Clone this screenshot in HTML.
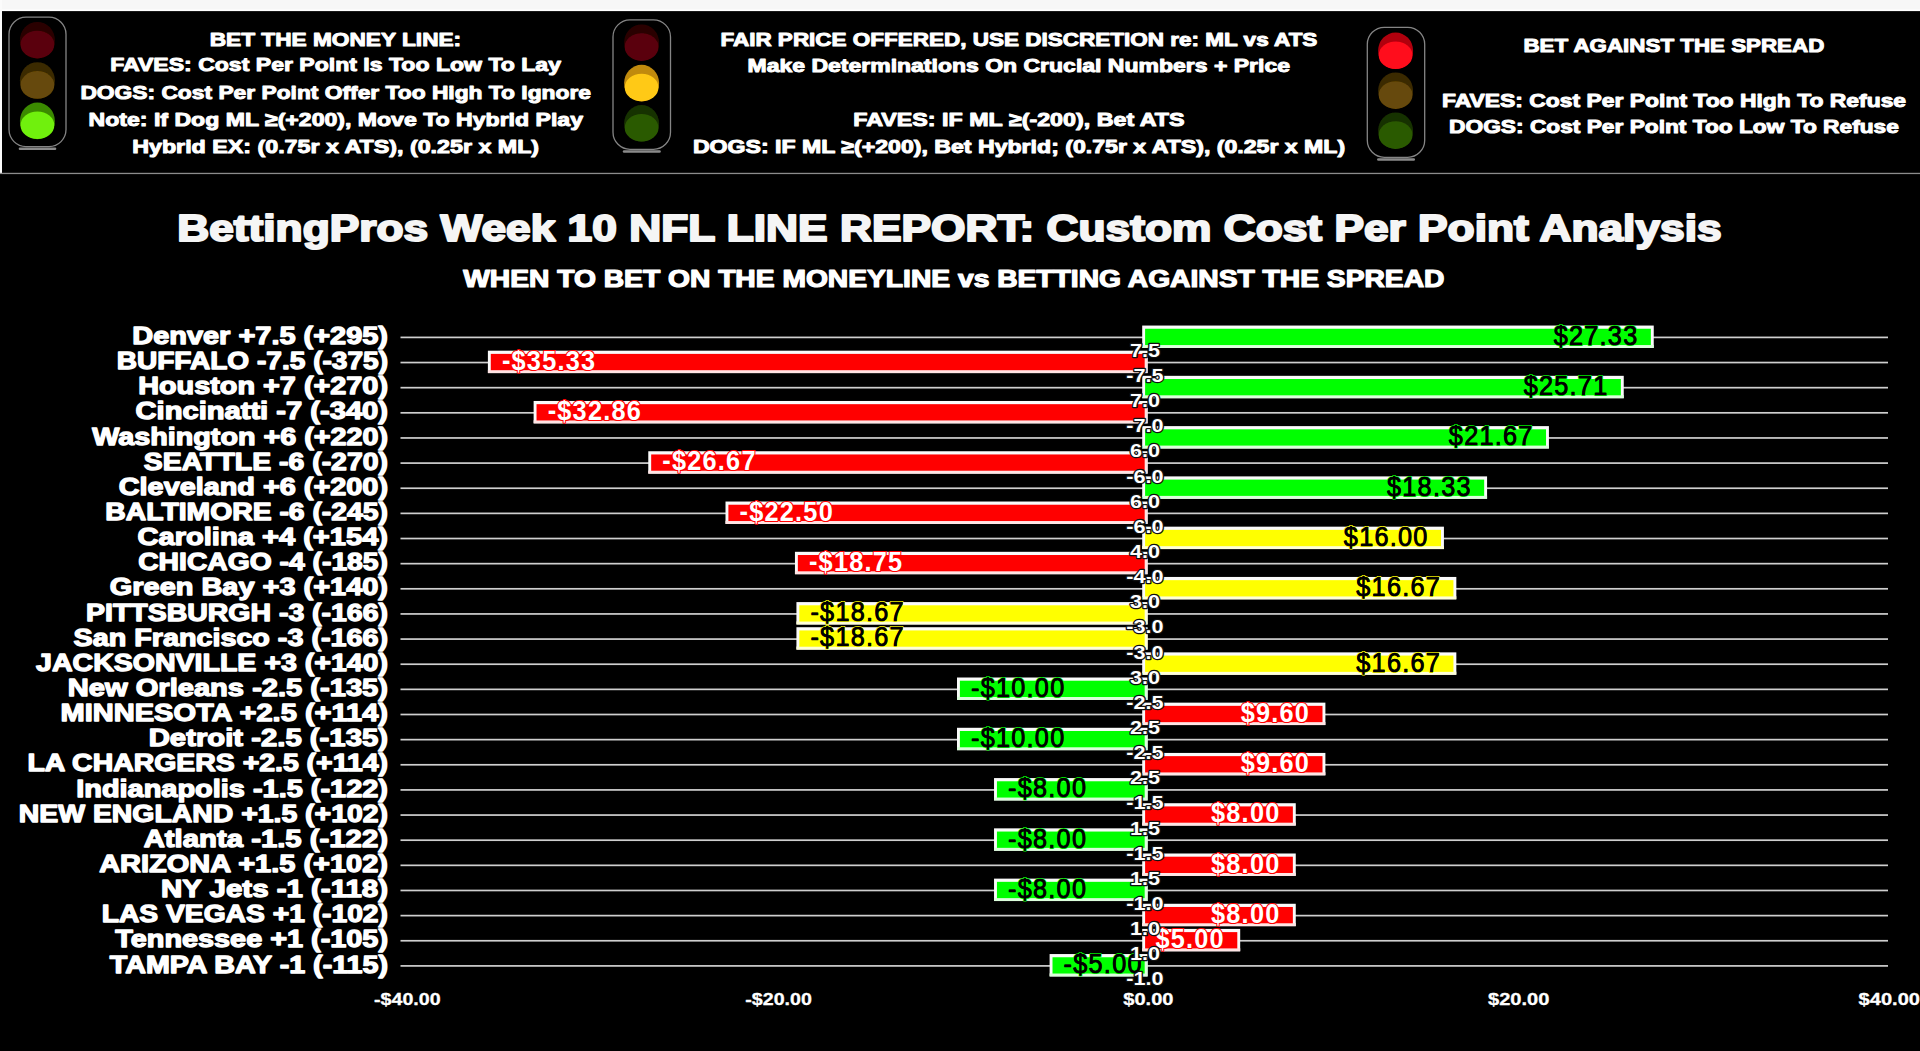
<!DOCTYPE html>
<html lang="en"><head><meta charset="utf-8"><title>BettingPros Week 10 NFL Line Report</title>
<style>
html,body{margin:0;padding:0;background:#000;}
body{width:1920px;height:1051px;overflow:hidden;position:relative;font-family:"Liberation Sans", Arial, Helvetica, sans-serif;}
</style></head><body>
<svg width="1920" height="1051" viewBox="0 0 1920 1051" style="position:absolute;left:0;top:0;font-family:&quot;Liberation Sans&quot;, Arial, Helvetica, sans-serif">

<defs>
 <filter id="soft" x="-20%" y="-20%" width="140%" height="140%"><feGaussianBlur stdDeviation="0.7"/></filter>
</defs>

<rect x="0" y="0" width="1920" height="1051" fill="#000"/>
<rect x="0" y="0" width="1920" height="10" fill="#f7f7f7"/>
<rect x="0" y="9.5" width="1920" height="1.6" fill="#ffffff"/>
<rect x="0" y="0" width="2" height="173" fill="#fbfbfb"/>
<rect x="0" y="172.8" width="1920" height="1.3" fill="#8c8c8c"/>
<rect x="9" y="17.2" width="57" height="129.4" rx="17" ry="17" fill="#000" stroke="#858585" stroke-width="1.3"/>
<rect x="18.7" y="147.6" width="37.6" height="2.4" rx="1.2" fill="#8a8a8a"/>
<g filter="url(#soft)"><ellipse cx="37.4" cy="40.2" rx="17.5" ry="18.3" fill="#2c0004"/>
<ellipse cx="37.4" cy="44.6" rx="16.9" ry="13.8" fill="#5a000a"/></g>
<g filter="url(#soft)"><ellipse cx="37.4" cy="80.5" rx="17.5" ry="18.3" fill="#3a2904"/>
<ellipse cx="37.4" cy="84.9" rx="16.9" ry="13.8" fill="#664808"/></g>
<g filter="url(#soft)"><ellipse cx="37.4" cy="120.9" rx="17.5" ry="18.3" fill="#3a8a00"/>
<ellipse cx="37.4" cy="125.3" rx="16.9" ry="13.8" fill="#70f008"/></g>
<rect x="613" y="19.9" width="57.5" height="129.4" rx="17" ry="17" fill="#000" stroke="#858585" stroke-width="1.3"/>
<rect x="622.8" y="150.3" width="38.0" height="2.4" rx="1.2" fill="#8a8a8a"/>
<g filter="url(#soft)"><ellipse cx="641.6" cy="42.7" rx="17.5" ry="18.3" fill="#2c0004"/>
<ellipse cx="641.6" cy="47.1" rx="16.9" ry="13.8" fill="#5a000a"/></g>
<g filter="url(#soft)"><ellipse cx="641.6" cy="83.1" rx="17.5" ry="18.3" fill="#c08a0e"/>
<ellipse cx="641.6" cy="87.5" rx="16.9" ry="13.8" fill="#ffc914"/></g>
<g filter="url(#soft)"><ellipse cx="641.6" cy="123.4" rx="17.5" ry="18.3" fill="#183000"/>
<ellipse cx="641.6" cy="127.8" rx="16.9" ry="13.8" fill="#2c5a00"/></g>
<rect x="1367.3" y="27.3" width="57.4" height="130" rx="17" ry="17" fill="#000" stroke="#858585" stroke-width="1.3"/>
<rect x="1377.1" y="158.3" width="37.9" height="2.4" rx="1.2" fill="#8a8a8a"/>
<g filter="url(#soft)"><ellipse cx="1395.6" cy="50.8" rx="17.5" ry="18.3" fill="#b0000e"/>
<ellipse cx="1395.6" cy="55.2" rx="16.9" ry="13.8" fill="#ff0a1a"/></g>
<g filter="url(#soft)"><ellipse cx="1395.6" cy="90.7" rx="17.5" ry="18.3" fill="#3a2904"/>
<ellipse cx="1395.6" cy="95.1" rx="16.9" ry="13.8" fill="#664808"/></g>
<g filter="url(#soft)"><ellipse cx="1395.6" cy="130.7" rx="17.5" ry="18.3" fill="#183000"/>
<ellipse cx="1395.6" cy="135.1" rx="16.9" ry="13.8" fill="#2c5a00"/></g>
<text x="209.70" y="46.00" font-size="19" font-weight="bold" fill="#fff" textLength="251.50" lengthAdjust="spacingAndGlyphs" stroke="#fff" stroke-width="1.0" stroke-linejoin="round" paint-order="stroke">BET THE MONEY LINE:</text>
<text x="110.20" y="71.40" font-size="19" font-weight="bold" fill="#fff" textLength="450.80" lengthAdjust="spacingAndGlyphs" stroke="#fff" stroke-width="1.0" stroke-linejoin="round" paint-order="stroke">FAVES: Cost Per Point Is Too Low To Lay</text>
<text x="80.40" y="98.60" font-size="19" font-weight="bold" fill="#fff" textLength="510.60" lengthAdjust="spacingAndGlyphs" stroke="#fff" stroke-width="1.0" stroke-linejoin="round" paint-order="stroke">DOGS: Cost Per Point Offer Too High To Ignore</text>
<text x="88.60" y="125.60" font-size="19" font-weight="bold" fill="#fff" textLength="494.40" lengthAdjust="spacingAndGlyphs" stroke="#fff" stroke-width="1.0" stroke-linejoin="round" paint-order="stroke">Note: If Dog ML ≥(+200), Move To Hybrid Play</text>
<text x="132.20" y="153.00" font-size="19" font-weight="bold" fill="#fff" textLength="406.90" lengthAdjust="spacingAndGlyphs" stroke="#fff" stroke-width="1.0" stroke-linejoin="round" paint-order="stroke">Hybrid EX: (0.75r x ATS), (0.25r x ML)</text>
<text x="720.40" y="46.00" font-size="19" font-weight="bold" fill="#fff" textLength="597.00" lengthAdjust="spacingAndGlyphs" stroke="#fff" stroke-width="1.0" stroke-linejoin="round" paint-order="stroke">FAIR PRICE OFFERED, USE DISCRETION re: ML vs ATS</text>
<text x="747.50" y="71.80" font-size="19" font-weight="bold" fill="#fff" textLength="542.50" lengthAdjust="spacingAndGlyphs" stroke="#fff" stroke-width="1.0" stroke-linejoin="round" paint-order="stroke">Make Determinations On Crucial Numbers + Price</text>
<text x="853.30" y="126.20" font-size="19" font-weight="bold" fill="#fff" textLength="331.30" lengthAdjust="spacingAndGlyphs" stroke="#fff" stroke-width="1.0" stroke-linejoin="round" paint-order="stroke">FAVES: IF ML ≥(-200), Bet ATS</text>
<text x="692.90" y="153.20" font-size="19" font-weight="bold" fill="#fff" textLength="652.30" lengthAdjust="spacingAndGlyphs" stroke="#fff" stroke-width="1.0" stroke-linejoin="round" paint-order="stroke">DOGS: IF ML ≥(+200), Bet Hybrid; (0.75r x ATS), (0.25r x ML)</text>
<text x="1523.40" y="52.40" font-size="19" font-weight="bold" fill="#fff" textLength="300.90" lengthAdjust="spacingAndGlyphs" stroke="#fff" stroke-width="1.0" stroke-linejoin="round" paint-order="stroke">BET AGAINST THE SPREAD</text>
<text x="1442.00" y="106.50" font-size="19" font-weight="bold" fill="#fff" textLength="464.10" lengthAdjust="spacingAndGlyphs" stroke="#fff" stroke-width="1.0" stroke-linejoin="round" paint-order="stroke">FAVES: Cost Per Point Too High To Refuse</text>
<text x="1449.10" y="133.40" font-size="19" font-weight="bold" fill="#fff" textLength="449.80" lengthAdjust="spacingAndGlyphs" stroke="#fff" stroke-width="1.0" stroke-linejoin="round" paint-order="stroke">DOGS: Cost Per Point Too Low To Refuse</text>
<text x="177.20" y="241.00" font-size="36.3" font-weight="bold" fill="#f5f5f5" textLength="1544.40" lengthAdjust="spacingAndGlyphs" stroke="#f5f5f5" stroke-width="2.0" stroke-linejoin="round" paint-order="stroke">BettingPros Week 10 NFL LINE REPORT: Custom Cost Per Point Analysis</text>
<text x="463.20" y="286.80" font-size="23.2" font-weight="bold" fill="#fff" textLength="981.20" lengthAdjust="spacingAndGlyphs" stroke="#fff" stroke-width="1.2" stroke-linejoin="round" paint-order="stroke">WHEN TO BET ON THE MONEYLINE vs BETTING AGAINST THE SPREAD</text>
<rect x="400.5" y="336.55" width="1487.5" height="1.7" fill="#cfcfcf"/>
<rect x="400.5" y="361.69" width="1487.5" height="1.7" fill="#cfcfcf"/>
<rect x="400.5" y="386.83" width="1487.5" height="1.7" fill="#cfcfcf"/>
<rect x="400.5" y="411.97" width="1487.5" height="1.7" fill="#cfcfcf"/>
<rect x="400.5" y="437.11" width="1487.5" height="1.7" fill="#cfcfcf"/>
<rect x="400.5" y="462.25" width="1487.5" height="1.7" fill="#cfcfcf"/>
<rect x="400.5" y="487.39" width="1487.5" height="1.7" fill="#cfcfcf"/>
<rect x="400.5" y="512.53" width="1487.5" height="1.7" fill="#cfcfcf"/>
<rect x="400.5" y="537.67" width="1487.5" height="1.7" fill="#cfcfcf"/>
<rect x="400.5" y="562.81" width="1487.5" height="1.7" fill="#cfcfcf"/>
<rect x="400.5" y="587.95" width="1487.5" height="1.7" fill="#cfcfcf"/>
<rect x="400.5" y="613.09" width="1487.5" height="1.7" fill="#cfcfcf"/>
<rect x="400.5" y="638.23" width="1487.5" height="1.7" fill="#cfcfcf"/>
<rect x="400.5" y="663.37" width="1487.5" height="1.7" fill="#cfcfcf"/>
<rect x="400.5" y="688.51" width="1487.5" height="1.7" fill="#cfcfcf"/>
<rect x="400.5" y="713.65" width="1487.5" height="1.7" fill="#cfcfcf"/>
<rect x="400.5" y="738.79" width="1487.5" height="1.7" fill="#cfcfcf"/>
<rect x="400.5" y="763.93" width="1487.5" height="1.7" fill="#cfcfcf"/>
<rect x="400.5" y="789.07" width="1487.5" height="1.7" fill="#cfcfcf"/>
<rect x="400.5" y="814.21" width="1487.5" height="1.7" fill="#cfcfcf"/>
<rect x="400.5" y="839.35" width="1487.5" height="1.7" fill="#cfcfcf"/>
<rect x="400.5" y="864.49" width="1487.5" height="1.7" fill="#cfcfcf"/>
<rect x="400.5" y="889.63" width="1487.5" height="1.7" fill="#cfcfcf"/>
<rect x="400.5" y="914.77" width="1487.5" height="1.7" fill="#cfcfcf"/>
<rect x="400.5" y="939.91" width="1487.5" height="1.7" fill="#cfcfcf"/>
<rect x="400.5" y="965.05" width="1487.5" height="1.7" fill="#cfcfcf"/>
<rect x="1142.20" y="325.55" width="511.55" height="22.40" fill="#fafafa"/>
<rect x="1142.20" y="344.85" width="511.55" height="3.10" fill="#dcffdc"/>
<rect x="1145.10" y="328.75" width="505.75" height="16.30" fill="#00ff00"/>
<rect x="487.89" y="350.69" width="659.71" height="22.40" fill="#fafafa"/>
<rect x="487.89" y="369.99" width="659.71" height="3.10" fill="#ffe4e4"/>
<rect x="1144.70" y="353.59" width="2.90" height="16.60" fill="#ffe4e4"/>
<rect x="490.79" y="353.89" width="653.91" height="16.30" fill="#ff0000"/>
<rect x="1142.20" y="375.83" width="481.55" height="22.40" fill="#fafafa"/>
<rect x="1142.20" y="395.13" width="481.55" height="3.10" fill="#dcffdc"/>
<rect x="1145.10" y="379.03" width="475.75" height="16.30" fill="#00ff00"/>
<rect x="533.63" y="400.97" width="613.97" height="22.40" fill="#fafafa"/>
<rect x="533.63" y="420.27" width="613.97" height="3.10" fill="#ffe4e4"/>
<rect x="1144.70" y="403.87" width="2.90" height="16.60" fill="#ffe4e4"/>
<rect x="536.53" y="404.17" width="608.17" height="16.30" fill="#ff0000"/>
<rect x="1142.20" y="426.11" width="406.73" height="22.40" fill="#fafafa"/>
<rect x="1142.20" y="445.41" width="406.73" height="3.10" fill="#dcffdc"/>
<rect x="1145.10" y="429.31" width="400.93" height="16.30" fill="#00ff00"/>
<rect x="648.27" y="451.25" width="499.33" height="22.40" fill="#fafafa"/>
<rect x="648.27" y="470.55" width="499.33" height="3.10" fill="#ffe4e4"/>
<rect x="1144.70" y="454.15" width="2.90" height="16.60" fill="#ffe4e4"/>
<rect x="651.17" y="454.45" width="493.53" height="16.30" fill="#ff0000"/>
<rect x="1142.20" y="476.39" width="344.87" height="22.40" fill="#fafafa"/>
<rect x="1142.20" y="495.69" width="344.87" height="3.10" fill="#dcffdc"/>
<rect x="1145.10" y="479.59" width="339.07" height="16.30" fill="#00ff00"/>
<rect x="725.50" y="501.53" width="422.10" height="22.40" fill="#fafafa"/>
<rect x="725.50" y="520.83" width="422.10" height="3.10" fill="#ffe4e4"/>
<rect x="1144.70" y="504.43" width="2.90" height="16.60" fill="#ffe4e4"/>
<rect x="728.40" y="504.73" width="416.30" height="16.30" fill="#ff0000"/>
<rect x="1142.20" y="526.67" width="301.72" height="22.40" fill="#fafafa"/>
<rect x="1142.20" y="545.97" width="301.72" height="3.10" fill="#ffffd8"/>
<rect x="1145.10" y="529.87" width="295.92" height="16.30" fill="#ffff00"/>
<rect x="794.95" y="551.81" width="352.65" height="22.40" fill="#fafafa"/>
<rect x="794.95" y="571.11" width="352.65" height="3.10" fill="#ffe4e4"/>
<rect x="1144.70" y="554.71" width="2.90" height="16.60" fill="#ffe4e4"/>
<rect x="797.85" y="555.01" width="346.85" height="16.30" fill="#ff0000"/>
<rect x="1142.20" y="576.95" width="314.13" height="22.40" fill="#fafafa"/>
<rect x="1142.20" y="596.25" width="314.13" height="3.10" fill="#ffffd8"/>
<rect x="1145.10" y="580.15" width="308.33" height="16.30" fill="#ffff00"/>
<rect x="796.43" y="602.09" width="351.17" height="22.40" fill="#fafafa"/>
<rect x="796.43" y="621.39" width="351.17" height="3.10" fill="#ffffd8"/>
<rect x="1144.70" y="604.99" width="2.90" height="16.60" fill="#ffffd8"/>
<rect x="799.33" y="605.29" width="345.37" height="16.30" fill="#ffff00"/>
<rect x="796.43" y="627.23" width="351.17" height="22.40" fill="#fafafa"/>
<rect x="796.43" y="646.53" width="351.17" height="3.10" fill="#ffffd8"/>
<rect x="1144.70" y="630.13" width="2.90" height="16.60" fill="#ffffd8"/>
<rect x="799.33" y="630.43" width="345.37" height="16.30" fill="#ffff00"/>
<rect x="1142.20" y="652.37" width="314.13" height="22.40" fill="#fafafa"/>
<rect x="1142.20" y="671.67" width="314.13" height="3.10" fill="#ffffd8"/>
<rect x="1145.10" y="655.57" width="308.33" height="16.30" fill="#ffff00"/>
<rect x="957.00" y="677.51" width="190.60" height="22.40" fill="#fafafa"/>
<rect x="957.00" y="696.81" width="190.60" height="3.10" fill="#dcffdc"/>
<rect x="1144.70" y="680.41" width="2.90" height="16.60" fill="#dcffdc"/>
<rect x="959.90" y="680.71" width="184.80" height="16.30" fill="#00ff00"/>
<rect x="1142.20" y="702.65" width="183.19" height="22.40" fill="#fafafa"/>
<rect x="1142.20" y="721.95" width="183.19" height="3.10" fill="#ffe4e4"/>
<rect x="1145.10" y="705.85" width="177.39" height="16.30" fill="#ff0000"/>
<rect x="957.00" y="727.79" width="190.60" height="22.40" fill="#fafafa"/>
<rect x="957.00" y="747.09" width="190.60" height="3.10" fill="#dcffdc"/>
<rect x="1144.70" y="730.69" width="2.90" height="16.60" fill="#dcffdc"/>
<rect x="959.90" y="730.99" width="184.80" height="16.30" fill="#00ff00"/>
<rect x="1142.20" y="752.93" width="183.19" height="22.40" fill="#fafafa"/>
<rect x="1142.20" y="772.23" width="183.19" height="3.10" fill="#ffe4e4"/>
<rect x="1145.10" y="756.13" width="177.39" height="16.30" fill="#ff0000"/>
<rect x="994.04" y="778.07" width="153.56" height="22.40" fill="#fafafa"/>
<rect x="994.04" y="797.37" width="153.56" height="3.10" fill="#dcffdc"/>
<rect x="1144.70" y="780.97" width="2.90" height="16.60" fill="#dcffdc"/>
<rect x="996.94" y="781.27" width="147.76" height="16.30" fill="#00ff00"/>
<rect x="1142.20" y="803.21" width="153.56" height="22.40" fill="#fafafa"/>
<rect x="1142.20" y="822.51" width="153.56" height="3.10" fill="#ffe4e4"/>
<rect x="1145.10" y="806.41" width="147.76" height="16.30" fill="#ff0000"/>
<rect x="994.04" y="828.35" width="153.56" height="22.40" fill="#fafafa"/>
<rect x="994.04" y="847.65" width="153.56" height="3.10" fill="#dcffdc"/>
<rect x="1144.70" y="831.25" width="2.90" height="16.60" fill="#dcffdc"/>
<rect x="996.94" y="831.55" width="147.76" height="16.30" fill="#00ff00"/>
<rect x="1142.20" y="853.49" width="153.56" height="22.40" fill="#fafafa"/>
<rect x="1142.20" y="872.79" width="153.56" height="3.10" fill="#ffe4e4"/>
<rect x="1145.10" y="856.69" width="147.76" height="16.30" fill="#ff0000"/>
<rect x="994.04" y="878.63" width="153.56" height="22.40" fill="#fafafa"/>
<rect x="994.04" y="897.93" width="153.56" height="3.10" fill="#dcffdc"/>
<rect x="1144.70" y="881.53" width="2.90" height="16.60" fill="#dcffdc"/>
<rect x="996.94" y="881.83" width="147.76" height="16.30" fill="#00ff00"/>
<rect x="1142.20" y="903.77" width="153.56" height="22.40" fill="#fafafa"/>
<rect x="1142.20" y="923.07" width="153.56" height="3.10" fill="#ffe4e4"/>
<rect x="1145.10" y="906.97" width="147.76" height="16.30" fill="#ff0000"/>
<rect x="1142.20" y="928.91" width="98.00" height="22.40" fill="#fafafa"/>
<rect x="1142.20" y="948.21" width="98.00" height="3.10" fill="#ffe4e4"/>
<rect x="1145.10" y="932.11" width="92.20" height="16.30" fill="#ff0000"/>
<rect x="1049.60" y="954.05" width="98.00" height="22.40" fill="#fafafa"/>
<rect x="1049.60" y="973.35" width="98.00" height="3.10" fill="#dcffdc"/>
<rect x="1144.70" y="956.95" width="2.90" height="16.60" fill="#dcffdc"/>
<rect x="1052.50" y="957.25" width="92.20" height="16.30" fill="#00ff00"/>
<text x="132.30" y="344.00" font-size="24" font-weight="bold" fill="#fff" textLength="255.70" lengthAdjust="spacingAndGlyphs" stroke="#fff" stroke-width="1.3" stroke-linejoin="round" paint-order="stroke">Denver +7.5 (+295)</text>
<text x="116.70" y="369.14" font-size="24" font-weight="bold" fill="#fff" textLength="271.30" lengthAdjust="spacingAndGlyphs" stroke="#fff" stroke-width="1.3" stroke-linejoin="round" paint-order="stroke">BUFFALO -7.5 (-375)</text>
<text x="138.20" y="394.28" font-size="24" font-weight="bold" fill="#fff" textLength="249.80" lengthAdjust="spacingAndGlyphs" stroke="#fff" stroke-width="1.3" stroke-linejoin="round" paint-order="stroke">Houston +7 (+270)</text>
<text x="135.50" y="419.42" font-size="24" font-weight="bold" fill="#fff" textLength="252.50" lengthAdjust="spacingAndGlyphs" stroke="#fff" stroke-width="1.3" stroke-linejoin="round" paint-order="stroke">Cincinatti -7 (-340)</text>
<text x="92.30" y="444.56" font-size="24" font-weight="bold" fill="#fff" textLength="295.70" lengthAdjust="spacingAndGlyphs" stroke="#fff" stroke-width="1.3" stroke-linejoin="round" paint-order="stroke">Washington +6 (+220)</text>
<text x="143.80" y="469.70" font-size="24" font-weight="bold" fill="#fff" textLength="244.20" lengthAdjust="spacingAndGlyphs" stroke="#fff" stroke-width="1.3" stroke-linejoin="round" paint-order="stroke">SEATTLE -6 (-270)</text>
<text x="118.80" y="494.84" font-size="24" font-weight="bold" fill="#fff" textLength="269.20" lengthAdjust="spacingAndGlyphs" stroke="#fff" stroke-width="1.3" stroke-linejoin="round" paint-order="stroke">Cleveland +6 (+200)</text>
<text x="105.30" y="519.98" font-size="24" font-weight="bold" fill="#fff" textLength="282.70" lengthAdjust="spacingAndGlyphs" stroke="#fff" stroke-width="1.3" stroke-linejoin="round" paint-order="stroke">BALTIMORE -6 (-245)</text>
<text x="137.50" y="545.12" font-size="24" font-weight="bold" fill="#fff" textLength="250.50" lengthAdjust="spacingAndGlyphs" stroke="#fff" stroke-width="1.3" stroke-linejoin="round" paint-order="stroke">Carolina +4 (+154)</text>
<text x="138.20" y="570.26" font-size="24" font-weight="bold" fill="#fff" textLength="249.80" lengthAdjust="spacingAndGlyphs" stroke="#fff" stroke-width="1.3" stroke-linejoin="round" paint-order="stroke">CHICAGO -4 (-185)</text>
<text x="109.80" y="595.40" font-size="24" font-weight="bold" fill="#fff" textLength="278.20" lengthAdjust="spacingAndGlyphs" stroke="#fff" stroke-width="1.3" stroke-linejoin="round" paint-order="stroke">Green Bay +3 (+140)</text>
<text x="86.10" y="620.54" font-size="24" font-weight="bold" fill="#fff" textLength="301.90" lengthAdjust="spacingAndGlyphs" stroke="#fff" stroke-width="1.3" stroke-linejoin="round" paint-order="stroke">PITTSBURGH -3 (-166)</text>
<text x="73.60" y="645.68" font-size="24" font-weight="bold" fill="#fff" textLength="314.40" lengthAdjust="spacingAndGlyphs" stroke="#fff" stroke-width="1.3" stroke-linejoin="round" paint-order="stroke">San Francisco -3 (-166)</text>
<text x="36.10" y="670.82" font-size="24" font-weight="bold" fill="#fff" textLength="351.90" lengthAdjust="spacingAndGlyphs" stroke="#fff" stroke-width="1.3" stroke-linejoin="round" paint-order="stroke">JACKSONVILLE +3 (+140)</text>
<text x="67.75" y="695.96" font-size="24" font-weight="bold" fill="#fff" textLength="320.25" lengthAdjust="spacingAndGlyphs" stroke="#fff" stroke-width="1.3" stroke-linejoin="round" paint-order="stroke">New Orleans -2.5 (-135)</text>
<text x="60.50" y="721.10" font-size="24" font-weight="bold" fill="#fff" textLength="327.50" lengthAdjust="spacingAndGlyphs" stroke="#fff" stroke-width="1.3" stroke-linejoin="round" paint-order="stroke">MINNESOTA +2.5 (+114)</text>
<text x="148.70" y="746.24" font-size="24" font-weight="bold" fill="#fff" textLength="239.30" lengthAdjust="spacingAndGlyphs" stroke="#fff" stroke-width="1.3" stroke-linejoin="round" paint-order="stroke">Detroit -2.5 (-135)</text>
<text x="27.40" y="771.38" font-size="24" font-weight="bold" fill="#fff" textLength="360.60" lengthAdjust="spacingAndGlyphs" stroke="#fff" stroke-width="1.3" stroke-linejoin="round" paint-order="stroke">LA CHARGERS +2.5 (+114)</text>
<text x="76.20" y="796.52" font-size="24" font-weight="bold" fill="#fff" textLength="311.80" lengthAdjust="spacingAndGlyphs" stroke="#fff" stroke-width="1.3" stroke-linejoin="round" paint-order="stroke">Indianapolis -1.5 (-122)</text>
<text x="18.80" y="821.66" font-size="24" font-weight="bold" fill="#fff" textLength="369.20" lengthAdjust="spacingAndGlyphs" stroke="#fff" stroke-width="1.3" stroke-linejoin="round" paint-order="stroke">NEW ENGLAND +1.5 (+102)</text>
<text x="143.70" y="846.80" font-size="24" font-weight="bold" fill="#fff" textLength="244.30" lengthAdjust="spacingAndGlyphs" stroke="#fff" stroke-width="1.3" stroke-linejoin="round" paint-order="stroke">Atlanta -1.5 (-122)</text>
<text x="99.20" y="871.94" font-size="24" font-weight="bold" fill="#fff" textLength="288.80" lengthAdjust="spacingAndGlyphs" stroke="#fff" stroke-width="1.3" stroke-linejoin="round" paint-order="stroke">ARIZONA +1.5 (+102)</text>
<text x="161.00" y="897.08" font-size="24" font-weight="bold" fill="#fff" textLength="227.00" lengthAdjust="spacingAndGlyphs" stroke="#fff" stroke-width="1.3" stroke-linejoin="round" paint-order="stroke">NY Jets -1 (-118)</text>
<text x="101.70" y="922.22" font-size="24" font-weight="bold" fill="#fff" textLength="286.30" lengthAdjust="spacingAndGlyphs" stroke="#fff" stroke-width="1.3" stroke-linejoin="round" paint-order="stroke">LAS VEGAS +1 (-102)</text>
<text x="115.30" y="947.36" font-size="24" font-weight="bold" fill="#fff" textLength="272.70" lengthAdjust="spacingAndGlyphs" stroke="#fff" stroke-width="1.3" stroke-linejoin="round" paint-order="stroke">Tennessee +1 (-105)</text>
<text x="109.80" y="972.50" font-size="24" font-weight="bold" fill="#fff" textLength="278.20" lengthAdjust="spacingAndGlyphs" stroke="#fff" stroke-width="1.3" stroke-linejoin="round" paint-order="stroke">TAMPA BAY -1 (-115)</text>
<g transform="translate(1638.49,344.75) scale(0.92,1)">
<text x="0.00" y="0.00" font-size="27.5" font-weight="normal" fill="#000000" text-anchor="end" stroke="#00ff00" stroke-width="2.2" stroke-linejoin="round" paint-order="stroke" letter-spacing="1.35">$27.33</text>
<text x="0.00" y="0.00" font-size="27.5" font-weight="normal" fill="#000000" text-anchor="end" stroke="#000000" stroke-width="0.7" stroke-linejoin="round" paint-order="stroke" letter-spacing="1.35">$27.33</text>
</g>
<g transform="translate(501.89,369.89) scale(0.92,1)">
<text x="0.00" y="0.00" font-size="27.5" font-weight="bold" fill="#ffffff" stroke="#ff0000" stroke-width="2.2" stroke-linejoin="round" paint-order="stroke" letter-spacing="1.35">-$35.33</text>
</g>
<g transform="translate(1608.49,395.03) scale(0.92,1)">
<text x="0.00" y="0.00" font-size="27.5" font-weight="normal" fill="#000000" text-anchor="end" stroke="#00ff00" stroke-width="2.2" stroke-linejoin="round" paint-order="stroke" letter-spacing="1.35">$25.71</text>
<text x="0.00" y="0.00" font-size="27.5" font-weight="normal" fill="#000000" text-anchor="end" stroke="#000000" stroke-width="0.7" stroke-linejoin="round" paint-order="stroke" letter-spacing="1.35">$25.71</text>
</g>
<g transform="translate(547.63,420.17) scale(0.92,1)">
<text x="0.00" y="0.00" font-size="27.5" font-weight="bold" fill="#ffffff" stroke="#ff0000" stroke-width="2.2" stroke-linejoin="round" paint-order="stroke" letter-spacing="1.35">-$32.86</text>
</g>
<g transform="translate(1533.67,445.31) scale(0.92,1)">
<text x="0.00" y="0.00" font-size="27.5" font-weight="normal" fill="#000000" text-anchor="end" stroke="#00ff00" stroke-width="2.2" stroke-linejoin="round" paint-order="stroke" letter-spacing="1.35">$21.67</text>
<text x="0.00" y="0.00" font-size="27.5" font-weight="normal" fill="#000000" text-anchor="end" stroke="#000000" stroke-width="0.7" stroke-linejoin="round" paint-order="stroke" letter-spacing="1.35">$21.67</text>
</g>
<g transform="translate(662.27,470.45) scale(0.92,1)">
<text x="0.00" y="0.00" font-size="27.5" font-weight="bold" fill="#ffffff" stroke="#ff0000" stroke-width="2.2" stroke-linejoin="round" paint-order="stroke" letter-spacing="1.35">-$26.67</text>
</g>
<g transform="translate(1471.81,495.59) scale(0.92,1)">
<text x="0.00" y="0.00" font-size="27.5" font-weight="normal" fill="#000000" text-anchor="end" stroke="#00ff00" stroke-width="2.2" stroke-linejoin="round" paint-order="stroke" letter-spacing="1.35">$18.33</text>
<text x="0.00" y="0.00" font-size="27.5" font-weight="normal" fill="#000000" text-anchor="end" stroke="#000000" stroke-width="0.7" stroke-linejoin="round" paint-order="stroke" letter-spacing="1.35">$18.33</text>
</g>
<g transform="translate(739.50,520.73) scale(0.92,1)">
<text x="0.00" y="0.00" font-size="27.5" font-weight="bold" fill="#ffffff" stroke="#ff0000" stroke-width="2.2" stroke-linejoin="round" paint-order="stroke" letter-spacing="1.35">-$22.50</text>
</g>
<g transform="translate(1428.66,545.87) scale(0.92,1)">
<text x="0.00" y="0.00" font-size="27.5" font-weight="normal" fill="#000000" text-anchor="end" stroke="#ffff00" stroke-width="2.2" stroke-linejoin="round" paint-order="stroke" letter-spacing="1.35">$16.00</text>
<text x="0.00" y="0.00" font-size="27.5" font-weight="normal" fill="#000000" text-anchor="end" stroke="#000000" stroke-width="0.7" stroke-linejoin="round" paint-order="stroke" letter-spacing="1.35">$16.00</text>
</g>
<g transform="translate(808.95,571.01) scale(0.92,1)">
<text x="0.00" y="0.00" font-size="27.5" font-weight="bold" fill="#ffffff" stroke="#ff0000" stroke-width="2.2" stroke-linejoin="round" paint-order="stroke" letter-spacing="1.35">-$18.75</text>
</g>
<g transform="translate(1441.07,596.15) scale(0.92,1)">
<text x="0.00" y="0.00" font-size="27.5" font-weight="normal" fill="#000000" text-anchor="end" stroke="#ffff00" stroke-width="2.2" stroke-linejoin="round" paint-order="stroke" letter-spacing="1.35">$16.67</text>
<text x="0.00" y="0.00" font-size="27.5" font-weight="normal" fill="#000000" text-anchor="end" stroke="#000000" stroke-width="0.7" stroke-linejoin="round" paint-order="stroke" letter-spacing="1.35">$16.67</text>
</g>
<g transform="translate(810.43,621.29) scale(0.92,1)">
<text x="0.00" y="0.00" font-size="27.5" font-weight="normal" fill="#000000" stroke="#ffff00" stroke-width="2.2" stroke-linejoin="round" paint-order="stroke" letter-spacing="1.35">-$18.67</text>
<text x="0.00" y="0.00" font-size="27.5" font-weight="normal" fill="#000000" stroke="#000000" stroke-width="0.7" stroke-linejoin="round" paint-order="stroke" letter-spacing="1.35">-$18.67</text>
</g>
<g transform="translate(810.43,646.43) scale(0.92,1)">
<text x="0.00" y="0.00" font-size="27.5" font-weight="normal" fill="#000000" stroke="#ffff00" stroke-width="2.2" stroke-linejoin="round" paint-order="stroke" letter-spacing="1.35">-$18.67</text>
<text x="0.00" y="0.00" font-size="27.5" font-weight="normal" fill="#000000" stroke="#000000" stroke-width="0.7" stroke-linejoin="round" paint-order="stroke" letter-spacing="1.35">-$18.67</text>
</g>
<g transform="translate(1441.07,671.57) scale(0.92,1)">
<text x="0.00" y="0.00" font-size="27.5" font-weight="normal" fill="#000000" text-anchor="end" stroke="#ffff00" stroke-width="2.2" stroke-linejoin="round" paint-order="stroke" letter-spacing="1.35">$16.67</text>
<text x="0.00" y="0.00" font-size="27.5" font-weight="normal" fill="#000000" text-anchor="end" stroke="#000000" stroke-width="0.7" stroke-linejoin="round" paint-order="stroke" letter-spacing="1.35">$16.67</text>
</g>
<g transform="translate(971.00,696.71) scale(0.92,1)">
<text x="0.00" y="0.00" font-size="27.5" font-weight="normal" fill="#000000" stroke="#00ff00" stroke-width="2.2" stroke-linejoin="round" paint-order="stroke" letter-spacing="1.35">-$10.00</text>
<text x="0.00" y="0.00" font-size="27.5" font-weight="normal" fill="#000000" stroke="#000000" stroke-width="0.7" stroke-linejoin="round" paint-order="stroke" letter-spacing="1.35">-$10.00</text>
</g>
<g transform="translate(1310.13,721.85) scale(0.92,1)">
<text x="0.00" y="0.00" font-size="27.5" font-weight="bold" fill="#ffffff" text-anchor="end" stroke="#ff0000" stroke-width="2.2" stroke-linejoin="round" paint-order="stroke" letter-spacing="1.35">$9.60</text>
</g>
<g transform="translate(971.00,746.99) scale(0.92,1)">
<text x="0.00" y="0.00" font-size="27.5" font-weight="normal" fill="#000000" stroke="#00ff00" stroke-width="2.2" stroke-linejoin="round" paint-order="stroke" letter-spacing="1.35">-$10.00</text>
<text x="0.00" y="0.00" font-size="27.5" font-weight="normal" fill="#000000" stroke="#000000" stroke-width="0.7" stroke-linejoin="round" paint-order="stroke" letter-spacing="1.35">-$10.00</text>
</g>
<g transform="translate(1310.13,772.13) scale(0.92,1)">
<text x="0.00" y="0.00" font-size="27.5" font-weight="bold" fill="#ffffff" text-anchor="end" stroke="#ff0000" stroke-width="2.2" stroke-linejoin="round" paint-order="stroke" letter-spacing="1.35">$9.60</text>
</g>
<g transform="translate(1008.04,797.27) scale(0.92,1)">
<text x="0.00" y="0.00" font-size="27.5" font-weight="normal" fill="#000000" stroke="#00ff00" stroke-width="2.2" stroke-linejoin="round" paint-order="stroke" letter-spacing="1.35">-$8.00</text>
<text x="0.00" y="0.00" font-size="27.5" font-weight="normal" fill="#000000" stroke="#000000" stroke-width="0.7" stroke-linejoin="round" paint-order="stroke" letter-spacing="1.35">-$8.00</text>
</g>
<g transform="translate(1280.50,822.41) scale(0.92,1)">
<text x="0.00" y="0.00" font-size="27.5" font-weight="bold" fill="#ffffff" text-anchor="end" stroke="#ff0000" stroke-width="2.2" stroke-linejoin="round" paint-order="stroke" letter-spacing="1.35">$8.00</text>
</g>
<g transform="translate(1008.04,847.55) scale(0.92,1)">
<text x="0.00" y="0.00" font-size="27.5" font-weight="normal" fill="#000000" stroke="#00ff00" stroke-width="2.2" stroke-linejoin="round" paint-order="stroke" letter-spacing="1.35">-$8.00</text>
<text x="0.00" y="0.00" font-size="27.5" font-weight="normal" fill="#000000" stroke="#000000" stroke-width="0.7" stroke-linejoin="round" paint-order="stroke" letter-spacing="1.35">-$8.00</text>
</g>
<g transform="translate(1280.50,872.69) scale(0.92,1)">
<text x="0.00" y="0.00" font-size="27.5" font-weight="bold" fill="#ffffff" text-anchor="end" stroke="#ff0000" stroke-width="2.2" stroke-linejoin="round" paint-order="stroke" letter-spacing="1.35">$8.00</text>
</g>
<g transform="translate(1008.04,897.83) scale(0.92,1)">
<text x="0.00" y="0.00" font-size="27.5" font-weight="normal" fill="#000000" stroke="#00ff00" stroke-width="2.2" stroke-linejoin="round" paint-order="stroke" letter-spacing="1.35">-$8.00</text>
<text x="0.00" y="0.00" font-size="27.5" font-weight="normal" fill="#000000" stroke="#000000" stroke-width="0.7" stroke-linejoin="round" paint-order="stroke" letter-spacing="1.35">-$8.00</text>
</g>
<g transform="translate(1280.50,922.97) scale(0.92,1)">
<text x="0.00" y="0.00" font-size="27.5" font-weight="bold" fill="#ffffff" text-anchor="end" stroke="#ff0000" stroke-width="2.2" stroke-linejoin="round" paint-order="stroke" letter-spacing="1.35">$8.00</text>
</g>
<g transform="translate(1224.94,948.11) scale(0.92,1)">
<text x="0.00" y="0.00" font-size="27.5" font-weight="bold" fill="#ffffff" text-anchor="end" stroke="#ff0000" stroke-width="2.2" stroke-linejoin="round" paint-order="stroke" letter-spacing="1.35">$5.00</text>
</g>
<g transform="translate(1063.60,973.25) scale(0.92,1)">
<text x="0.00" y="0.00" font-size="27.5" font-weight="normal" fill="#000000" stroke="#00ff00" stroke-width="2.2" stroke-linejoin="round" paint-order="stroke" letter-spacing="1.35">-$5.00</text>
<text x="0.00" y="0.00" font-size="27.5" font-weight="normal" fill="#000000" stroke="#000000" stroke-width="0.7" stroke-linejoin="round" paint-order="stroke" letter-spacing="1.35">-$5.00</text>
</g>
<g transform="translate(1145.0,356.90) scale(1.17,1)">
<text x="0.00" y="0.00" font-size="18.5" font-weight="bold" fill="#fff" text-anchor="middle" stroke="#111" stroke-width="2.4" stroke-linejoin="round" paint-order="stroke">7.5</text>
</g>
<g transform="translate(1145.0,382.04) scale(1.17,1)">
<text x="0.00" y="0.00" font-size="18.5" font-weight="bold" fill="#fff" text-anchor="middle" stroke="#111" stroke-width="2.4" stroke-linejoin="round" paint-order="stroke">-7.5</text>
</g>
<g transform="translate(1145.0,407.18) scale(1.17,1)">
<text x="0.00" y="0.00" font-size="18.5" font-weight="bold" fill="#fff" text-anchor="middle" stroke="#111" stroke-width="2.4" stroke-linejoin="round" paint-order="stroke">7.0</text>
</g>
<g transform="translate(1145.0,432.32) scale(1.17,1)">
<text x="0.00" y="0.00" font-size="18.5" font-weight="bold" fill="#fff" text-anchor="middle" stroke="#111" stroke-width="2.4" stroke-linejoin="round" paint-order="stroke">-7.0</text>
</g>
<g transform="translate(1145.0,457.46) scale(1.17,1)">
<text x="0.00" y="0.00" font-size="18.5" font-weight="bold" fill="#fff" text-anchor="middle" stroke="#111" stroke-width="2.4" stroke-linejoin="round" paint-order="stroke">6.0</text>
</g>
<g transform="translate(1145.0,482.60) scale(1.17,1)">
<text x="0.00" y="0.00" font-size="18.5" font-weight="bold" fill="#fff" text-anchor="middle" stroke="#111" stroke-width="2.4" stroke-linejoin="round" paint-order="stroke">-6.0</text>
</g>
<g transform="translate(1145.0,507.74) scale(1.17,1)">
<text x="0.00" y="0.00" font-size="18.5" font-weight="bold" fill="#fff" text-anchor="middle" stroke="#111" stroke-width="2.4" stroke-linejoin="round" paint-order="stroke">6.0</text>
</g>
<g transform="translate(1145.0,532.88) scale(1.17,1)">
<text x="0.00" y="0.00" font-size="18.5" font-weight="bold" fill="#fff" text-anchor="middle" stroke="#111" stroke-width="2.4" stroke-linejoin="round" paint-order="stroke">-6.0</text>
</g>
<g transform="translate(1145.0,558.02) scale(1.17,1)">
<text x="0.00" y="0.00" font-size="18.5" font-weight="bold" fill="#fff" text-anchor="middle" stroke="#111" stroke-width="2.4" stroke-linejoin="round" paint-order="stroke">4.0</text>
</g>
<g transform="translate(1145.0,583.16) scale(1.17,1)">
<text x="0.00" y="0.00" font-size="18.5" font-weight="bold" fill="#fff" text-anchor="middle" stroke="#111" stroke-width="2.4" stroke-linejoin="round" paint-order="stroke">-4.0</text>
</g>
<g transform="translate(1145.0,608.30) scale(1.17,1)">
<text x="0.00" y="0.00" font-size="18.5" font-weight="bold" fill="#fff" text-anchor="middle" stroke="#111" stroke-width="2.4" stroke-linejoin="round" paint-order="stroke">3.0</text>
</g>
<g transform="translate(1145.0,633.44) scale(1.17,1)">
<text x="0.00" y="0.00" font-size="18.5" font-weight="bold" fill="#fff" text-anchor="middle" stroke="#111" stroke-width="2.4" stroke-linejoin="round" paint-order="stroke">-3.0</text>
</g>
<g transform="translate(1145.0,658.58) scale(1.17,1)">
<text x="0.00" y="0.00" font-size="18.5" font-weight="bold" fill="#fff" text-anchor="middle" stroke="#111" stroke-width="2.4" stroke-linejoin="round" paint-order="stroke">-3.0</text>
</g>
<g transform="translate(1145.0,683.72) scale(1.17,1)">
<text x="0.00" y="0.00" font-size="18.5" font-weight="bold" fill="#fff" text-anchor="middle" stroke="#111" stroke-width="2.4" stroke-linejoin="round" paint-order="stroke">3.0</text>
</g>
<g transform="translate(1145.0,708.86) scale(1.17,1)">
<text x="0.00" y="0.00" font-size="18.5" font-weight="bold" fill="#fff" text-anchor="middle" stroke="#111" stroke-width="2.4" stroke-linejoin="round" paint-order="stroke">-2.5</text>
</g>
<g transform="translate(1145.0,734.00) scale(1.17,1)">
<text x="0.00" y="0.00" font-size="18.5" font-weight="bold" fill="#fff" text-anchor="middle" stroke="#111" stroke-width="2.4" stroke-linejoin="round" paint-order="stroke">2.5</text>
</g>
<g transform="translate(1145.0,759.14) scale(1.17,1)">
<text x="0.00" y="0.00" font-size="18.5" font-weight="bold" fill="#fff" text-anchor="middle" stroke="#111" stroke-width="2.4" stroke-linejoin="round" paint-order="stroke">-2.5</text>
</g>
<g transform="translate(1145.0,784.28) scale(1.17,1)">
<text x="0.00" y="0.00" font-size="18.5" font-weight="bold" fill="#fff" text-anchor="middle" stroke="#111" stroke-width="2.4" stroke-linejoin="round" paint-order="stroke">2.5</text>
</g>
<g transform="translate(1145.0,809.42) scale(1.17,1)">
<text x="0.00" y="0.00" font-size="18.5" font-weight="bold" fill="#fff" text-anchor="middle" stroke="#111" stroke-width="2.4" stroke-linejoin="round" paint-order="stroke">-1.5</text>
</g>
<g transform="translate(1145.0,834.56) scale(1.17,1)">
<text x="0.00" y="0.00" font-size="18.5" font-weight="bold" fill="#fff" text-anchor="middle" stroke="#111" stroke-width="2.4" stroke-linejoin="round" paint-order="stroke">1.5</text>
</g>
<g transform="translate(1145.0,859.70) scale(1.17,1)">
<text x="0.00" y="0.00" font-size="18.5" font-weight="bold" fill="#fff" text-anchor="middle" stroke="#111" stroke-width="2.4" stroke-linejoin="round" paint-order="stroke">-1.5</text>
</g>
<g transform="translate(1145.0,884.84) scale(1.17,1)">
<text x="0.00" y="0.00" font-size="18.5" font-weight="bold" fill="#fff" text-anchor="middle" stroke="#111" stroke-width="2.4" stroke-linejoin="round" paint-order="stroke">1.5</text>
</g>
<g transform="translate(1145.0,909.98) scale(1.17,1)">
<text x="0.00" y="0.00" font-size="18.5" font-weight="bold" fill="#fff" text-anchor="middle" stroke="#111" stroke-width="2.4" stroke-linejoin="round" paint-order="stroke">-1.0</text>
</g>
<g transform="translate(1145.0,935.12) scale(1.17,1)">
<text x="0.00" y="0.00" font-size="18.5" font-weight="bold" fill="#fff" text-anchor="middle" stroke="#111" stroke-width="2.4" stroke-linejoin="round" paint-order="stroke">1.0</text>
</g>
<g transform="translate(1145.0,960.26) scale(1.17,1)">
<text x="0.00" y="0.00" font-size="18.5" font-weight="bold" fill="#fff" text-anchor="middle" stroke="#111" stroke-width="2.4" stroke-linejoin="round" paint-order="stroke">1.0</text>
</g>
<g transform="translate(1145.0,985.40) scale(1.17,1)">
<text x="0.00" y="0.00" font-size="18.5" font-weight="bold" fill="#fff" text-anchor="middle" stroke="#111" stroke-width="2.4" stroke-linejoin="round" paint-order="stroke">-1.0</text>
</g>
<text x="407.30" y="1005.00" font-size="16.4" font-weight="bold" fill="#fff" text-anchor="middle" textLength="66.50" lengthAdjust="spacingAndGlyphs" stroke="#fff" stroke-width="0.3" stroke-linejoin="round" paint-order="stroke">-$40.00</text>
<text x="778.60" y="1005.00" font-size="16.4" font-weight="bold" fill="#fff" text-anchor="middle" textLength="66.50" lengthAdjust="spacingAndGlyphs" stroke="#fff" stroke-width="0.3" stroke-linejoin="round" paint-order="stroke">-$20.00</text>
<text x="1148.40" y="1005.00" font-size="16.4" font-weight="bold" fill="#fff" text-anchor="middle" textLength="50.20" lengthAdjust="spacingAndGlyphs" stroke="#fff" stroke-width="0.3" stroke-linejoin="round" paint-order="stroke">$0.00</text>
<text x="1518.70" y="1005.00" font-size="16.4" font-weight="bold" fill="#fff" text-anchor="middle" textLength="61.40" lengthAdjust="spacingAndGlyphs" stroke="#fff" stroke-width="0.3" stroke-linejoin="round" paint-order="stroke">$20.00</text>
<text x="1889.30" y="1005.00" font-size="16.4" font-weight="bold" fill="#fff" text-anchor="middle" textLength="61.40" lengthAdjust="spacingAndGlyphs" stroke="#fff" stroke-width="0.3" stroke-linejoin="round" paint-order="stroke">$40.00</text>
</svg>
</body></html>
